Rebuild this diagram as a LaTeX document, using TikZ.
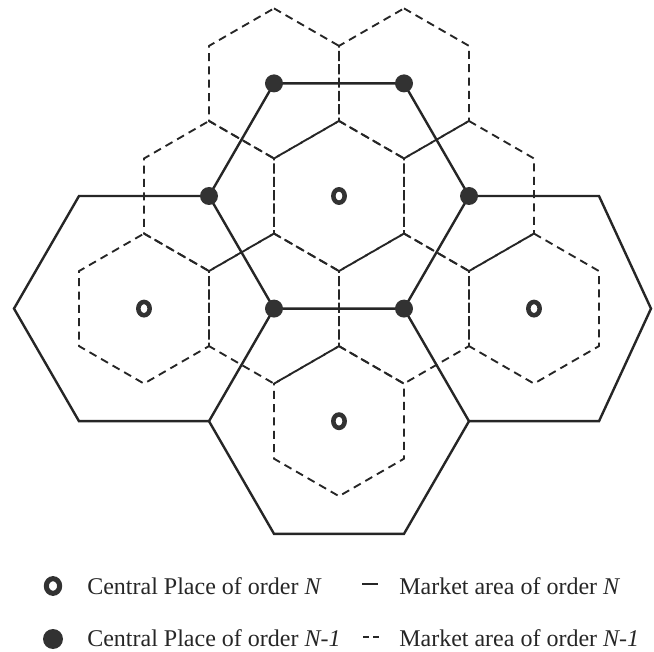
\documentclass[tikz,border=0pt]{standalone}
\usepackage{fontspec}
\setmainfont{Liberation Serif}
\usetikzlibrary{shapes.geometric}
\definecolor{ink}{RGB}{38,38,38}
\definecolor{dotink}{RGB}{50,50,50}
\begin{document}
\begin{tikzpicture}[x=0.75pt,y=-0.75pt,
  solidline/.style={draw=ink,line width=1.8pt,line join=miter},
  dashline/.style={draw=ink,line width=1.4pt,dash pattern=on 6pt off 4pt},
  lowdot/.style={circle,fill=dotink,draw=none,minimum size=13.5pt,inner sep=0pt},
  highring/.style={ellipse,draw=dotink,line width=3.4pt,fill=white,minimum width=8.5pt,minimum height=10pt,inner sep=0pt},
  legtext/.style={anchor=base west,inner sep=0pt,font=\fontsize{18}{20}\selectfont,text=ink}
]
\useasboundingbox (0,0) rectangle (654,652);

% centres of the lower-order places (vertices of the central market area)
\coordinate (p1) at (274,83.4);
\coordinate (p2) at (404,83.4);
\coordinate (p3) at (469,196);
\coordinate (p4) at (404,308.6);
\coordinate (p5) at (274,308.6);
\coordinate (p6) at (209,196);
% centres of the higher-order places
\coordinate (qC) at (339,196);
\coordinate (qL) at (144,308.6);
\coordinate (qR) at (534,308.6);
\coordinate (qB) at (339,421.2);

% market areas of order N-1 (dashed, pointy-top hexagons)
\foreach \c in {p1,p2,p3,p4,p5,p6,qC,qL,qR,qB}{
  \draw[dashline,shift={(\c)}] (0,-75) -- (65,-37.5) -- (65,37.5) -- (0,75)
     -- (-65,37.5) -- (-65,-37.5) -- cycle;
}

% market areas of order N (solid hexagons)
\draw[solidline] (p1) -- (p2) -- (p3) -- (p4) -- (p5) -- (p6) -- cycle;
\draw[solidline] (p6) -- (79,196) -- (14,308.6) -- (79,421.2) -- (209,421.2) -- (p5);
\draw[solidline] (p3) -- (599,196) -- (651,308.6) -- (599,421.2) -- (469,421.2) -- (p4);
\draw[solidline] (469,421.2) -- (404,533.8) -- (274,533.8) -- (209,421.2);

% central places of order N-1
\foreach \c in {p1,p2,p3,p4,p5,p6}{
  \node[lowdot] (dot\c) at (\c) {};
}
% central places of order N
\foreach \c in {qC,qL,qR,qB}{
  \node[highring] (ring\c) at (\c) {};
}

% legend
\node[highring,minimum width=10pt,minimum height=11pt,line width=3.8pt] (legring) at (53,586) {};
\node[lowdot,minimum size=15pt] (legdot) at (53,639) {};
\node[legtext] (t1) at (87,594) {Central Place of order \textit{N}};
\node[legtext] (t2) at (87,646) {Central Place of order \textit{N-1}};
\coordinate (s1a) at (362,584);
\coordinate (s1b) at (378,584);
\draw[draw=ink,line width=1.5pt] (s1a) -- (s1b);
\coordinate (s2a) at (363,637);
\coordinate (s2b) at (380,637);
\draw[draw=ink,line width=1.5pt,dash pattern=on 4.5pt off 3pt] (s2a) -- (s2b);
\node[legtext] (t3) at (399,594) {Market area of order \textit{N}};
\node[legtext] (t4) at (399,646) {Market area of order \textit{N-1}};
\end{tikzpicture}
\end{document}
